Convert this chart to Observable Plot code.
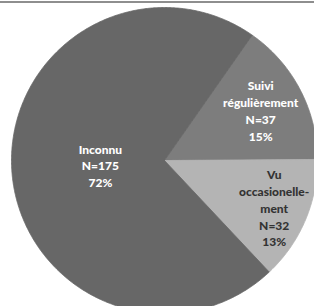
<!DOCTYPE html>
<html>
<head>
<meta charset="utf-8">
<script src="https://cdn.jsdelivr.net/npm/d3@7"></script>
<script src="https://cdn.jsdelivr.net/npm/@observablehq/plot@0.6"></script>
<style>
  html, body { margin: 0; padding: 0; background: #fff; }
  #wrap { position: relative; width: 314px; height: 306px; overflow: hidden; }
  #topline { position: absolute; left: 0; top: 1px; width: 314px; height: 2px; background: #8e8e8e; }
  svg { display: block; }
</style>
</head>
<body>
<div id="wrap"><div id="chart"></div><div id="topline"></div></div>
<script>
// Data
const categories = ["Suivi régulièrement", "Vu occasionellement", "Inconnu"];
const labelNames = ["Suivi\nrégulièrement", "Vu\noccasionelle-\nment", "Inconnu"];
const counts = [37, 32, 175];
const percentLabels = ["15%", "13%", "72%"];
const colors = ["#7d7d7d", "#b4b4b4", "#676767"];
const textColors = ["#ffffff", "#333333", "#ffffff"];

// Layout
const W = 314, H = 306;
const cx = 164, cy = 160, R = 153;
const startDeg = 35;
const labelRadius = [0.71, 0.78, 0.42];

const pie = d3.pie().sort(null).value(d => d)
  .startAngle(startDeg * Math.PI / 180)
  .endAngle((startDeg + 360) * Math.PI / 180);
const arcs = pie(counts);

// Build slice polygons in unit coordinates (y up)
const pts = [];
arcs.forEach((a, i) => {
  const n = Math.max(2, Math.ceil((a.endAngle - a.startAngle) / (Math.PI / 360)));
  pts.push({slice: categories[i], x: 0, y: 0});
  for (let k = 0; k <= n; k++) {
    const t = a.startAngle + (a.endAngle - a.startAngle) * k / n;
    pts.push({slice: categories[i], x: Math.sin(t), y: Math.cos(t)});
  }
  pts.push({slice: categories[i], x: 0, y: 0});
});

const labels = arcs.map((a, i) => {
  const m = (a.startAngle + a.endAngle) / 2;
  return {
    slice: categories[i],
    text: `${labelNames[i]}\nN=${counts[i]}\n${percentLabels[i]}`,
    x: Math.sin(m) * labelRadius[i],
    y: Math.cos(m) * labelRadius[i],
    color: textColors[i]
  };
});

const chart = Plot.plot({
  width: W,
  height: H,
  margin: 0,
  x: {domain: [-cx / R, (W - cx) / R], axis: null},
  y: {domain: [(cy - H) / R, cy / R], axis: null},
  color: {domain: categories, range: colors},
  marks: [
    Plot.line(pts, {x: "x", y: "y", z: "slice", fill: "slice", stroke: "slice", strokeWidth: 0.8, curve: "linear"}),
    Plot.text(labels, {
      x: "x", y: "y", text: "text", fill: d => d.color,
      fontSize: 12, fontWeight: 900, fontFamily: "Lato, 'Open Sans', sans-serif",
      lineHeight: 1.4, textAnchor: "middle"
    })
  ]
});
document.getElementById("chart").appendChild(chart);
</script>
</body>
</html>
